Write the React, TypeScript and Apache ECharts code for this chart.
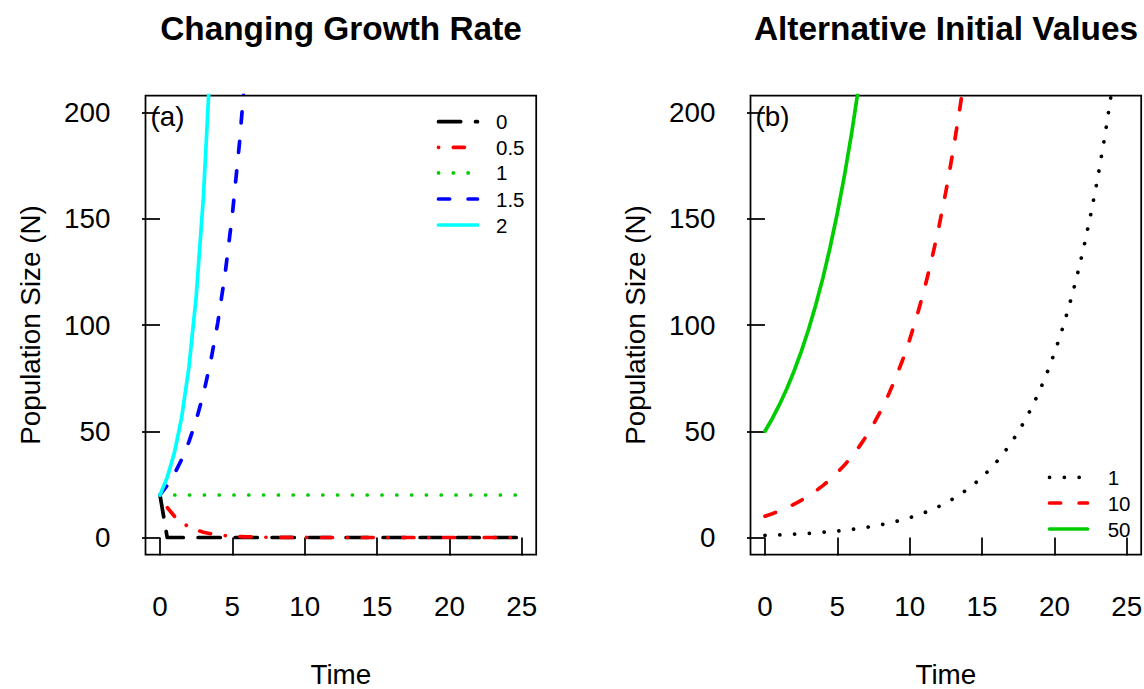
import React, { useEffect, useRef } from "react";
import * as echarts from "echarts";

// ---- data ----
const time = [
  0, 0.5, 1, 1.5, 2, 2.5, 3, 3.5, 4, 4.5, 5, 5.5, 6, 6.5, 7, 7.5, 8, 8.5, 9, 9.5,
  10, 10.5, 11, 11.5, 12, 12.5, 13, 13.5, 14, 14.5, 15, 15.5, 16, 16.5, 17, 17.5,
  18, 18.5, 19, 19.5, 20, 20.5, 21, 21.5, 22, 22.5, 23, 23.5, 24, 24.5, 25,
];

// Panel (a): N0 = 20, different growth rates (lambda)
const rateNames = ["0", "0.5", "1", "1.5", "2"];
const rate0 = [
  20, 0, 0, 0, 0, 0, 0, 0, 0, 0, 0, 0, 0, 0, 0, 0, 0, 0, 0, 0, 0, 0, 0, 0, 0, 0,
  0, 0, 0, 0, 0, 0, 0, 0, 0, 0, 0, 0, 0, 0, 0, 0, 0, 0, 0, 0, 0, 0, 0, 0, 0,
];
const rate05 = [
  20, 14.14, 10, 7.07, 5, 3.54, 2.5, 1.77, 1.25, 0.88, 0.63, 0.44, 0.31, 0.22,
  0.16, 0.11, 0.08, 0.06, 0.04, 0.03, 0.02, 0.01, 0.01, 0, 0, 0, 0, 0, 0, 0, 0, 0,
  0, 0, 0, 0, 0, 0, 0, 0, 0, 0, 0, 0, 0, 0, 0, 0, 0, 0, 0,
];
const rate1 = [
  20, 20, 20, 20, 20, 20, 20, 20, 20, 20, 20, 20, 20, 20, 20, 20, 20, 20, 20, 20,
  20, 20, 20, 20, 20, 20, 20, 20, 20, 20, 20, 20, 20, 20, 20, 20, 20, 20, 20, 20,
  20, 20, 20, 20, 20, 20, 20, 20, 20, 20, 20,
];
const rate15 = [20, 24.49, 30, 36.74, 45, 55.11, 67.5, 82.67, 101.25, 124.0, 151.88, 186.0, 227.8];
const rate2 = [20, 28.28, 40, 56.57, 80, 113.14, 160, 226.27];

// Panel (b): different initial values
const initNames = ["1", "10", "50"];
const init1 = [
  1, 1.12, 1.25, 1.4, 1.56, 1.75, 1.95, 2.18, 2.44, 2.73, 3.05, 3.41, 3.81, 4.26,
  4.77, 5.33, 5.96, 6.66, 7.45, 8.33, 9.31, 10.41, 11.64, 13.02, 14.55, 16.27,
  18.19, 20.34, 22.74, 25.42, 28.42, 31.78, 35.53, 39.72, 44.41, 49.65, 55.51,
  62.06, 69.39, 77.58, 86.74, 96.97, 108.42, 121.22, 135.53, 151.52, 169.41,
  189.4, 211.76,
];
const init10 = [
  10, 11.18, 12.5, 13.98, 15.63, 17.47, 19.53, 21.84, 24.41, 27.3, 30.52, 34.12,
  38.15, 42.65, 47.68, 53.31, 59.6, 66.64, 74.51, 83.3, 93.13, 104.13, 116.42,
  130.16, 145.52, 162.7, 181.9, 203.37, 227.37,
];
const init50 = [50, 55.9, 62.5, 69.88, 78.13, 87.34, 97.66, 109.18, 122.07, 136.48, 152.59, 170.6, 190.73, 213.25];

const xTicks = [0, 5, 10, 15, 20, 25];
const yTicks = [0, 50, 100, 150, 200];

// ---- styles ----
const FONT = "Liberation Sans";
const LW = 3.7;
const SOLID: any = null;
const DASHED = [11.1, 18.5];
const DOTTED = [0.1, 14.7];
const DOTDASH = [0.1, 14.7, 11.1, 14.8];
const LONGDASH = [22.2, 14.8];

const pairs = (vals: number[]) => vals.map((v, i) => [time[i], v]);

function makeSeries(name: string, vals: number[], color: string, dash: any) {
  return {
    type: "line",
    name,
    data: pairs(vals),
    symbol: "none",
    showSymbol: false,
    clip: true,
    lineStyle: { color, width: LW, type: dash || "solid", cap: "round", join: "round" },
    itemStyle: { color },
  };
}

function legendGraphics(
  names: string[],
  colors: string[],
  dashes: any[],
  x1: number,
  x2: number,
  textX: number,
  ys: number[]
) {
  const out: any[] = [];
  names.forEach((n, i) => {
    out.push({
      type: "line",
      shape: { x1, y1: ys[i], x2, y2: ys[i] },
      style: {
        stroke: colors[i],
        lineWidth: LW,
        lineDash: dashes[i] || null,
        lineCap: "round",
      },
      silent: true,
    });
    out.push({
      type: "text",
      x: textX,
      y: ys[i],
      style: {
        text: n,
        textAlign: "left",
        textVerticalAlign: "middle",
        font: `20.5px "${FONT}"`,
        fill: "#000",
      },
      silent: true,
    });
  });
  return out;
}

function baseOption(
  gridLeft: number,
  title: string,
  titleX: number,
  tag: string,
  series: any[],
  legendEls: any[]
) {
  return {
    animation: false,
    backgroundColor: "#ffffff",
    textStyle: { fontFamily: FONT },
    grid: {
      left: gridLeft,
      top: 95.5,
      width: 390.7,
      height: 459,
      show: true,
      borderColor: "#000",
      borderWidth: 1.75,
      backgroundColor: "transparent",
      containLabel: false,
      outerBoundsMode: "none",
    },
    xAxis: {
      type: "value",
      min: -1,
      max: 26,
      name: "Time",
      nameLocation: "middle",
      nameGap: 105.5,
      nameTextStyle: { fontSize: 27.8, lineHeight: 28, color: "#000", fontFamily: FONT },
      axisLine: { show: false },
      axisTick: {
        show: true,
        length: 18,
        inside: false,
        customValues: xTicks,
        lineStyle: { color: "#000", width: 1.75 },
      },
      axisLabel: {
        show: true,
        customValues: xTicks,
        margin: 38,
        fontSize: 27.8,
        color: "#000",
        fontFamily: FONT,
      },
      splitLine: { show: false },
    },
    yAxis: {
      type: "value",
      min: -8,
      max: 208,
      name: "Population Size (N)",
      nameLocation: "middle",
      nameGap: 101,
      nameRotate: 90,
      nameTextStyle: { fontSize: 27.8, color: "#000", fontFamily: FONT },
      axisLine: { show: false },
      axisTick: {
        show: true,
        length: 18,
        inside: false,
        customValues: yTicks,
        lineStyle: { color: "#000", width: 1.75 },
      },
      axisLabel: {
        show: true,
        customValues: yTicks,
        margin: 35,
        fontSize: 27.8,
        color: "#000",
        fontFamily: FONT,
      },
      splitLine: { show: false },
    },
    graphic: [
      {
        type: "text",
        x: titleX,
        y: 28,
        style: {
          text: title,
          textAlign: "center",
          textVerticalAlign: "middle",
          font: `bold 33.4px "${FONT}"`,
          fill: "#000",
        },
      },
      {
        type: "text",
        x: gridLeft + 5,
        y: 116,
        style: {
          text: tag,
          textAlign: "left",
          textVerticalAlign: "middle",
          font: `27.8px "${FONT}"`,
          fill: "#000",
        },
      },
      ...legendEls,
    ],
    series,
  };
}

const rateColors = ["#000000", "#ff0000", "#00cd00", "#0000ff", "#00ffff"];
const rateDashes = [LONGDASH, DOTDASH, DOTTED, DASHED, SOLID];
const initColors = ["#000000", "#ff0000", "#00cd00"];
const initDashes = [DOTTED, DASHED, SOLID];

const leftOption = baseOption(
  145.5,
  "Changing Growth Rate",
  341,
  "(a)",
  rateNames.map((n, i) =>
    makeSeries(n, [rate0, rate05, rate1, rate15, rate2][i], rateColors[i], rateDashes[i])
  ),
  legendGraphics(rateNames, rateColors, rateDashes, 438.5, 477.5, 496, [121.7, 147.3, 172.9, 199, 225])
);

const rightOption = baseOption(
  178.5,
  "Alternative Initial Values",
  374,
  "(b)",
  initNames.map((n, i) =>
    makeSeries(n, [init1, init10, init50][i], initColors[i], initDashes[i])
  ),
  legendGraphics(initNames, initColors, initDashes, 477.5, 515.5, 535.7, [477.3, 503, 529])
);

function Panel({ option, left }: { option: any; left: number }) {
  const ref = useRef<HTMLDivElement>(null);
  useEffect(() => {
    if (!ref.current) return;
    const chart = echarts.init(ref.current, undefined, { renderer: "svg" });
    chart.setOption(option);
    return () => chart.dispose();
  }, [option]);
  return (
    <div
      ref={ref}
      style={{ position: "absolute", left, top: 0, width: 572, height: 689 }}
    />
  );
}

export default function App() {
  return (
    <div
      style={{
        position: "fixed",
        left: 0,
        top: 0,
        width: 1144,
        height: 689,
        background: "#fff",
        overflow: "hidden",
      }}
    >
      <Panel option={leftOption} left={0} />
      <Panel option={rightOption} left={572} />
    </div>
  );
}
